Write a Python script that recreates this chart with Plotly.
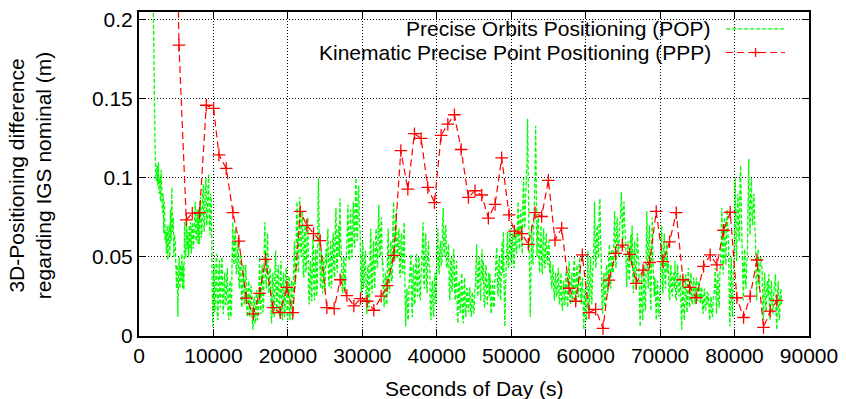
import numpy as np
import plotly.graph_objects as go

# ---------------- data ----------------
# Kinematic PPP solution (seconds of day, metres)
ppp_time = [4450, 5370, 6350, 7160, 8140, 9040, 10020, 10740, 11720, 12620, 13420,
            14400, 15350, 16200, 17000, 17990, 18970, 19865, 20670, 21655, 22550,
            23445, 24340, 25235, 26220, 27025, 27920, 28860, 29750, 30650, 31540,
            32525, 33330, 34230, 35170, 36110, 37000, 37900, 38790, 39690, 40580,
            41480, 42370, 43270, 44250, 45140, 46040, 46930, 47830, 48720, 49710,
            50420, 51410, 52300, 53200, 54090, 54990, 55880, 56780, 57760, 58660,
            59550, 60450, 61340, 62330, 63130, 64030, 64920, 65900, 66800, 67700,
            68590, 69480, 70380, 71270, 72170, 73065, 73960, 74850, 75840, 76730,
            77630, 78520, 79420, 80310, 81210, 82100, 83000, 83890, 84790, 85680]
ppp_value = [0.47, 0.184, 0.0735, 0.0777, 0.078, 0.146, 0.144, 0.1146, 0.106, 0.078, 0.060,
             0.024, 0.014, 0.027, 0.0485, 0.0179, 0.0148, 0.0308, 0.0148, 0.0788, 0.070,
             0.0648, 0.0604, 0.0179, 0.0173, 0.0356, 0.0256, 0.019, 0.0237, 0.022, 0.0163,
             0.0252, 0.0319, 0.051, 0.1173, 0.0929, 0.128, 0.125, 0.094, 0.0844, 0.127,
             0.134, 0.140, 0.118, 0.0877, 0.0919, 0.0892, 0.0746, 0.0833, 0.1127, 0.0767,
             0.0663, 0.0648, 0.058, 0.078, 0.0756, 0.0985, 0.0606, 0.0683, 0.0302, 0.022,
             0.0513, 0.0148, 0.0169, 0.0048, 0.0354, 0.0523, 0.0575, 0.0517, 0.0333, 0.0417,
             0.0465, 0.0788, 0.0471, 0.0596, 0.078, 0.0356, 0.0308, 0.0242, 0.044, 0.0513,
             0.045, 0.0669, 0.0783, 0.0242, 0.0117, 0.0252, 0.0481, 0.0054, 0.0158, 0.0225]

# Precise Orbits Positioning solution, one value every 90 s from 1800 s
pop_start = 1800
pop_step = 90
pop_value = [
    0.25, 0.21, 0.182, 0.15, 0.12, 0.10, 0.098, 0.108, 0.095, 0.11,
    0.09, 0.1, 0.085, 0.105, 0.08, 0.078, 0.09, 0.065, 0.085, 0.06,
    0.066, 0.052, 0.07, 0.048, 0.062, 0.07, 0.05, 0.08, 0.06, 0.094,
    0.066, 0.075, 0.05, 0.064, 0.06, 0.048, 0.03, 0.045, 0.012, 0.035,
    0.05, 0.03, 0.045, 0.035, 0.052, 0.03, 0.045, 0.029, 0.072, 0.05,
    0.05, 0.074, 0.055, 0.066, 0.05, 0.07, 0.055, 0.072, 0.052, 0.068,
    0.072, 0.055, 0.06, 0.078, 0.085, 0.06, 0.062, 0.08, 0.058, 0.08,
    0.058, 0.085, 0.088, 0.062, 0.066, 0.09, 0.096, 0.066, 0.07, 0.095,
    0.1, 0.07, 0.075, 0.095, 0.102, 0.07, 0.064, 0.09, 0.085, 0.04,
    0.006, 0.03, 0.045, 0.015, 0.02, 0.048, 0.052, 0.012, 0.01, 0.04,
    0.048, 0.018, 0.02, 0.045, 0.05, 0.02, 0.014, 0.035, 0.04, 0.02,
    0.02, 0.04, 0.043, 0.015, 0.01, 0.03, 0.035, 0.012, 0.015, 0.05,
    0.072, 0.05, 0.045, 0.065, 0.068, 0.04, 0.039, 0.055, 0.06, 0.035,
    0.03, 0.05, 0.052, 0.02, 0.018, 0.04, 0.045, 0.02, 0.025, 0.045,
    0.039, 0.015, 0.012, 0.03, 0.035, 0.012, 0.015, 0.032, 0.03, 0.01,
    0.004, 0.02, 0.025, 0.008, 0.008, 0.026, 0.029, 0.01, 0.012, 0.03,
    0.05, 0.02, 0.014, 0.04, 0.045, 0.015, 0.02, 0.06, 0.072, 0.04,
    0.03, 0.055, 0.065, 0.03, 0.027, 0.04, 0.043, 0.015, 0.008, 0.035,
    0.04, 0.015, 0.012, 0.045, 0.054, 0.02, 0.015, 0.04, 0.045, 0.015,
    0.012, 0.04, 0.0475, 0.015, 0.01, 0.035, 0.04, 0.012, 0.015, 0.04,
    0.043, 0.015, 0.01, 0.035, 0.038, 0.01, 0.012, 0.03, 0.035, 0.01,
    0.015, 0.045, 0.06, 0.03, 0.037, 0.07, 0.085, 0.045, 0.04, 0.075,
    0.088, 0.055, 0.05, 0.075, 0.079, 0.04, 0.037, 0.065, 0.07, 0.04,
    0.045, 0.07, 0.075, 0.03, 0.02, 0.04, 0.0475, 0.025, 0.022, 0.055,
    0.064, 0.03, 0.0225, 0.05, 0.055, 0.025, 0.03, 0.08, 0.0996, 0.06,
    0.05, 0.03, 0.054, 0.04, 0.027, 0.045, 0.05, 0.028, 0.03, 0.055,
    0.045, 0.06, 0.068, 0.035, 0.031, 0.05, 0.06, 0.03, 0.035, 0.06,
    0.065, 0.04, 0.037, 0.07, 0.081, 0.045, 0.04, 0.065, 0.07, 0.05,
    0.087, 0.06, 0.054, 0.03, 0.027, 0.045, 0.05, 0.028, 0.03, 0.05,
    0.054, 0.07, 0.083, 0.05, 0.0475, 0.07, 0.08, 0.05, 0.05, 0.075,
    0.085, 0.06, 0.056, 0.09, 0.1, 0.065, 0.06, 0.09, 0.095, 0.07,
    0.068, 0.035, 0.027, 0.05, 0.06, 0.03, 0.035, 0.05, 0.054, 0.025,
    0.014, 0.04, 0.045, 0.018, 0.02, 0.055, 0.068, 0.03, 0.027, 0.05,
    0.06, 0.035, 0.03, 0.06, 0.068, 0.045, 0.043, 0.07, 0.083, 0.055,
    0.05, 0.07, 0.075, 0.045, 0.0475, 0.025, 0.018, 0.035, 0.04, 0.02,
    0.02, 0.055, 0.068, 0.03, 0.027, 0.05, 0.06, 0.035, 0.035, 0.07,
    0.085, 0.05, 0.0475, 0.075, 0.08, 0.05, 0.05, 0.065, 0.068, 0.04,
    0.037, 0.06, 0.065, 0.04, 0.04, 0.065, 0.072, 0.03, 0.006, 0.025,
    0.03, 0.012, 0.01, 0.03, 0.037, 0.05, 0.052, 0.02, 0.012, 0.04,
    0.045, 0.02, 0.02, 0.045, 0.052, 0.03, 0.025, 0.045, 0.05, 0.025,
    0.0225, 0.04, 0.045, 0.06, 0.072, 0.035, 0.03, 0.06, 0.065, 0.035,
    0.027, 0.05, 0.06, 0.045, 0.043, 0.015, 0.01, 0.03, 0.035, 0.015,
    0.012, 0.035, 0.04, 0.02, 0.043, 0.06, 0.068, 0.045, 0.039, 0.055,
    0.06, 0.045, 0.045, 0.07, 0.081, 0.055, 0.05, 0.065, 0.07, 0.045,
    0.043, 0.055, 0.058, 0.03, 0.0225, 0.045, 0.05, 0.028, 0.03, 0.05,
    0.055, 0.03, 0.0225, 0.04, 0.0475, 0.015, 0.008, 0.03, 0.035, 0.015,
    0.015, 0.035, 0.04, 0.012, 0.008, 0.03, 0.037, 0.015, 0.012, 0.03,
    0.03, 0.018, 0.015, 0.028, 0.031, 0.015, 0.012, 0.026, 0.028, 0.016,
    0.014, 0.028, 0.03, 0.045, 0.058, 0.03, 0.025, 0.045, 0.05, 0.03,
    0.0225, 0.045, 0.055, 0.035, 0.0475, 0.02, 0.018, 0.04, 0.045, 0.025,
    0.02, 0.035, 0.04, 0.025, 0.039, 0.018, 0.014, 0.03, 0.035, 0.018,
    0.018, 0.035, 0.039, 0.05, 0.056, 0.03, 0.025, 0.045, 0.05, 0.028,
    0.0225, 0.05, 0.06, 0.04, 0.066, 0.03, 0.006, 0.03, 0.04, 0.055,
    0.066, 0.045, 0.043, 0.06, 0.068, 0.05, 0.045, 0.06, 0.065, 0.045,
    0.043, 0.06, 0.068, 0.055, 0.052, 0.075, 0.085, 0.06, 0.055, 0.075,
    0.08, 0.06, 0.052, 0.085, 0.1, 0.075, 0.068, 0.09, 0.095, 0.11,
    0.1375, 0.1, 0.079, 0.04, 0.012, 0.05, 0.07, 0.05, 0.045, 0.065,
    0.079, 0.1, 0.133, 0.07, 0.05, 0.07, 0.075, 0.05, 0.04, 0.06,
    0.07, 0.045, 0.039, 0.06, 0.068, 0.045, 0.043, 0.06, 0.065, 0.05,
    0.045, 0.055, 0.06, 0.04, 0.0475, 0.035, 0.03, 0.04, 0.045, 0.03,
    0.0225, 0.035, 0.04, 0.025, 0.025, 0.04, 0.043, 0.022, 0.02, 0.035,
    0.04, 0.02, 0.016, 0.03, 0.035, 0.02, 0.02, 0.038, 0.043, 0.025,
    0.018, 0.04, 0.0475, 0.025, 0.02, 0.035, 0.04, 0.022, 0.025, 0.045,
    0.05, 0.025, 0.02, 0.04, 0.045, 0.025, 0.025, 0.045, 0.05, 0.03,
    0.02, 0.032, 0.037, 0.015, 0.004, 0.025, 0.03, 0.012, 0.01, 0.035,
    0.054, 0.025, 0.016, 0.04, 0.05, 0.025, 0.02, 0.04, 0.045, 0.06,
    0.085, 0.05, 0.043, 0.065, 0.07, 0.05, 0.05, 0.08, 0.087, 0.06,
    0.0475, 0.02, 0.014, 0.035, 0.04, 0.02, 0.018, 0.04, 0.045, 0.03,
    0.027, 0.05, 0.058, 0.035, 0.03, 0.05, 0.055, 0.04, 0.04, 0.065,
    0.079, 0.05, 0.043, 0.07, 0.075, 0.055, 0.05, 0.065, 0.07, 0.08,
    0.091, 0.065, 0.056, 0.08, 0.085, 0.07, 0.064, 0.045, 0.031, 0.05,
    0.06, 0.04, 0.035, 0.055, 0.064, 0.045, 0.07, 0.04, 0.027, 0.05,
    0.06, 0.035, 0.03, 0.055, 0.065, 0.05, 0.0475, 0.02, 0.006, 0.025,
    0.04, 0.015, 0.01, 0.035, 0.045, 0.02, 0.016, 0.05, 0.079, 0.05,
    0.03, 0.06, 0.07, 0.03, 0.016, 0.05, 0.075, 0.05, 0.04, 0.025,
    0.037, 0.015, 0.01, 0.03, 0.035, 0.015, 0.012, 0.025, 0.03, 0.05,
    0.07, 0.035, 0.027, 0.055, 0.065, 0.035, 0.03, 0.05, 0.06, 0.04,
    0.0475, 0.025, 0.0225, 0.04, 0.045, 0.028, 0.025, 0.038, 0.04, 0.03,
    0.0475, 0.025, 0.0225, 0.04, 0.045, 0.028, 0.025, 0.035, 0.039, 0.02,
    0.004, 0.025, 0.035, 0.015, 0.01, 0.03, 0.039, 0.02, 0.015, 0.035,
    0.043, 0.022, 0.018, 0.035, 0.04, 0.022, 0.02, 0.032, 0.037, 0.025,
    0.02, 0.032, 0.037, 0.025, 0.022, 0.033, 0.035, 0.024, 0.02, 0.03,
    0.031, 0.018, 0.014, 0.026, 0.03, 0.018, 0.016, 0.025, 0.028, 0.02,
    0.027, 0.014, 0.01, 0.022, 0.025, 0.014, 0.012, 0.022, 0.026, 0.03,
    0.043, 0.02, 0.014, 0.035, 0.04, 0.022, 0.018, 0.04, 0.045, 0.06,
    0.081, 0.05, 0.039, 0.065, 0.075, 0.05, 0.045, 0.07, 0.08, 0.065,
    0.056, 0.02, 0.006, 0.035, 0.05, 0.02, 0.012, 0.04, 0.045, 0.07,
    0.1, 0.06, 0.0475, 0.08, 0.09, 0.065, 0.06, 0.095, 0.108, 0.08,
    0.06, 0.03, 0.0225, 0.045, 0.055, 0.035, 0.03, 0.045, 0.05, 0.08,
    0.112, 0.08, 0.064, 0.09, 0.1, 0.075, 0.07, 0.085, 0.09, 0.07,
    0.064, 0.035, 0.0225, 0.045, 0.055, 0.035, 0.03, 0.045, 0.05, 0.045,
    0.043, 0.018, 0.01, 0.03, 0.04, 0.02, 0.015, 0.03, 0.035, 0.025,
    0.039, 0.018, 0.01, 0.03, 0.035, 0.018, 0.014, 0.025, 0.03, 0.03,
    0.039, 0.012, 0.004, 0.025, 0.035, 0.015, 0.01, 0.025, 0.03, 0.02,
]
pop_time = pop_start + pop_step * np.arange(len(pop_value))

x_ticks = [0, 10000, 20000, 30000, 40000, 50000, 60000, 70000, 80000, 90000]
y_ticks = [0, 0.05, 0.1, 0.15, 0.2]
y_tick_text = ["0", "0.05", "0.1", "0.15", "0.2"]

pop_name = "Precise Orbits Positioning (POP)"
ppp_name = "Kinematic Precise Point Positioning (PPP)"
x_title = "Seconds of Day (s)"
y_title = "3D-Positioning difference<br>regarding IGS nominal (m)"

# ---------------- style ----------------
GREEN = "#00ff00"
RED = "#ff0000"
FONT = "Liberation Sans, Arial, Helvetica, sans-serif"
FS = 21

W, H = 846, 399
ML, MR, MT, MB = 139, 36, 8, 63
PW, PH = W - ML - MR, H - MT - MB

fig = go.Figure()
fig.add_trace(go.Scatter(x=pop_time, y=pop_value, mode="lines", name=pop_name,
                         line=dict(color=GREEN, width=1.3, dash="4px,2px"),
                         showlegend=False))
fig.add_trace(go.Scatter(x=ppp_time, y=ppp_value, mode="lines+markers", name=ppp_name,
                         line=dict(color=RED, width=1.2, dash="7px,4px"),
                         marker=dict(symbol="cross-thin", size=9,
                                     line=dict(color=RED, width=1.3)),
                         showlegend=False))

axis_common = dict(showline=True, linecolor="black", linewidth=2, mirror="allticks",
                   ticks="inside", ticklen=7, tickwidth=1, tickcolor="black",
                   showgrid=True, gridcolor="black", gridwidth=1, griddash="1px,2px",
                   zeroline=False, tickfont=dict(family=FONT, size=FS, color="black"))

fig.update_xaxes(range=[0, 90000], tickvals=x_ticks, tickformat="d", **axis_common)
fig.update_yaxes(range=[0, 0.205], tickvals=y_ticks, ticktext=y_tick_text, **axis_common)


def px(xp):
    return (xp - ML) / PW


def py(yp):
    return (H - MB - yp) / PH


shapes = []
# key area clears the grid behind it
shapes.append(dict(type="rect", xref="paper", yref="paper", x0=px(190), x1=px(798),
                   y0=py(59), y1=1, fillcolor="white", line=dict(width=0), layer="between"))
# key samples
row_y = [25, 49]
shapes.append(dict(type="line", xref="paper", yref="paper", x0=px(727), x1=px(786),
                   y0=py(row_y[0]), y1=py(row_y[0]),
                   line=dict(color=GREEN, width=1.3, dash="4px,2px")))
shapes.append(dict(type="line", xref="paper", yref="paper", x0=px(727), x1=px(786),
                   y0=py(row_y[1]), y1=py(row_y[1]),
                   line=dict(color=RED, width=1.2, dash="7px,4px")))
cx = 756.5
shapes.append(dict(type="line", xref="paper", yref="paper", x0=px(cx - 4.5), x1=px(cx + 4.5),
                   y0=py(row_y[1]), y1=py(row_y[1]), line=dict(color=RED, width=1.3)))
shapes.append(dict(type="line", xref="paper", yref="paper", x0=px(cx), x1=px(cx),
                   y0=py(row_y[1] - 4.5), y1=py(row_y[1] + 4.5), line=dict(color=RED, width=1.3)))

annotations = [
    dict(text=pop_name, xref="paper", yref="paper", x=px(713), y=py(row_y[0]),
         xanchor="right", yanchor="middle", showarrow=False, borderpad=0,
         font=dict(family=FONT, size=FS, color="black")),
    dict(text=ppp_name, xref="paper", yref="paper", x=px(713), y=py(row_y[1]),
         xanchor="right", yanchor="middle", showarrow=False, borderpad=0,
         font=dict(family=FONT, size=FS, color="black")),
    dict(text=x_title, xref="paper", yref="paper", x=0.5, y=py(389),
         xanchor="center", yanchor="middle", showarrow=False,
         font=dict(family=FONT, size=FS, color="black")),
    dict(text=y_title, xref="paper", yref="paper", x=px(30), y=py(174),
         xanchor="center", yanchor="middle", showarrow=False, textangle=-90,
         font=dict(family=FONT, size=FS, color="black")),
]

fig.update_layout(width=W, height=H, margin=dict(l=ML, r=MR, t=MT, b=MB),
                  paper_bgcolor="white", plot_bgcolor="white",
                  shapes=shapes, annotations=annotations, showlegend=False,
                  font=dict(family=FONT, size=FS, color="black"))

fig.write_html("out.html")
